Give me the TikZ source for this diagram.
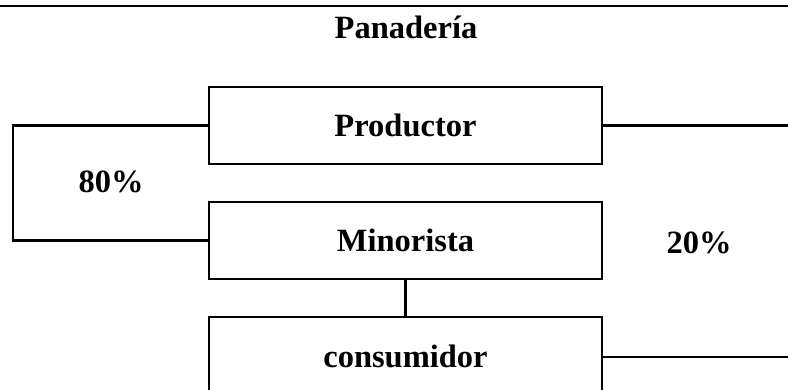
\documentclass[tikz,border=0pt]{standalone}
\usepackage{fontspec}
\setmainfont{Liberation Serif}
\usepackage{tikz}
\usetikzlibrary{calc}
\tikzstyle{caja}=[draw, line width=1.8pt, minimum width=393pt, minimum height=77pt, inner sep=0pt, text height=21.5pt, text depth=0pt, font=\fontsize{32.5}{38}\selectfont\bfseries]
\tikzstyle{etiqueta}=[inner sep=0pt, font=\fontsize{32.5}{38}\selectfont\bfseries]
\tikzstyle{linea}=[line width=2.4pt]
\begin{document}
\begin{tikzpicture}[x=1pt, y=-1pt]
	\useasboundingbox (0,0) rectangle (788,390);
	\clip (0,0) rectangle (788,390);
	\draw[line width=2.8pt] (0,6) -- (788,6);
	\node[etiqueta] (titulo) at (406,27) {Panader\'ia};
	\node[caja] (prod) at (405.5,125.5) {Productor};
	\node[caja] (mino) at (405.5,240.5) {Minorista};
	\node[caja, minimum height=80pt] (cons) at (405.5,357) {consumidor};
	\coordinate (izq) at (13,182);
	\coordinate (der1) at (789,125.5);
	\coordinate (der2) at (789,357);
	\draw[linea] (prod.west) -| (izq) |- (mino.west);
	\draw[linea] (prod.east) -- (der1);
	\draw[linea] (cons.east) -- (der2);
	\draw[line width=2.2pt] (mino.south) -- (cons.north);
	\node[etiqueta] (ochenta) at (111,182) {80\%};
	\node[etiqueta] (veinte) at (699,243) {20\%};
\end{tikzpicture}
\end{document}
